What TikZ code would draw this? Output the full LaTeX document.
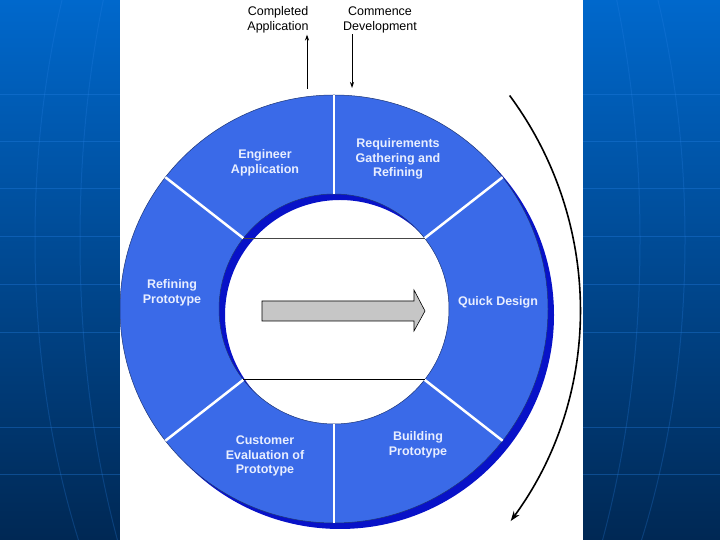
\documentclass[tikz,border=0pt]{standalone}
\usepackage{fontspec}
\setmainfont{Liberation Sans}
\usetikzlibrary{arrows.meta}

\definecolor{ringblue}{RGB}{58,106,232}
\definecolor{shadeblue}{RGB}{8,18,200}
\definecolor{bgtop}{RGB}{0,104,204}
\definecolor{bgbot}{RGB}{0,40,84}
\definecolor{gridblue}{RGB}{40,130,230}
\definecolor{lbltext}{RGB}{232,238,255}

\begin{document}
\begin{tikzpicture}[x=1pt,y=1pt]
\tikzstyle{lbl}=[text=lbltext,align=center,font=\bfseries\fontsize{12.5}{14.5}\selectfont,inner sep=0pt]
\tikzstyle{toplbl}=[text=black,align=center,font=\fontsize{12.5}{15}\selectfont,inner sep=1pt]
\tikzstyle{divider}=[draw=white,line width=2.5pt]
\tikzstyle{flow}=[draw=black,line width=0.8pt,-{Stealth[length=6pt,width=4pt]}]
\useasboundingbox (0,0) rectangle (720,540);

% slide background
\shade[top color=bgtop,bottom color=bgbot] (0,0) rectangle (720,540);
\foreach \y in {445,398,351,303,255,207,112,65}
    \draw[gridblue,opacity=0.35,line width=1pt] (0,\y) -- (720,\y);
\begin{scope}
    \clip (0,0) rectangle (720,540);
    \foreach \rx in {200,280,325}
        \draw[gridblue,opacity=0.25,line width=1pt] (360,300) ellipse ({\rx} and 600);
\end{scope}
\fill[white] (120,0) rectangle (583,540);

% ring with shadow
\begin{scope}[shift={(334,231)}]
    \fill[shadeblue,even odd rule] (6,-6) circle (214) (6,-6) circle (115);
    \filldraw[fill=ringblue,draw=ringblue!50!black,line width=0.5pt,even odd rule]
        (0,0) circle (214) (0,0) circle (115);
    \foreach \a in {90,38,-38,-90,218,142}
        \draw[divider] (\a:115) -- (\a:214);
    \draw[gray!55!black,line width=1.2pt] (142:115) -- (38:115);
    \draw[black,line width=0.9pt] (218:115) -- (-38:115);
\end{scope}

% centre arrow
\filldraw[fill=gray!45,draw=black,line width=0.6pt]
    (262,239) -- (414,239) -- (414,250) -- (425,229) -- (414,209) -- (414,219) -- (262,219) -- cycle;

\node[lbl] (eng) at (265,377) {Engineer\\Application};
\node[lbl] (req) at (398,381) {Requirements\\Gathering and\\Refining};
\node[lbl] (refp) at (172,247) {Refining\\Prototype};
\node[lbl] (quick) at (498,238) {Quick Design};
\node[lbl] (cust) at (265,84) {Customer\\Evaluation of\\Prototype};
\node[lbl] (build) at (418,95) {Building\\Prototype};

\node[toplbl] (done) at (278,520) {Completed\\Application};
\node[toplbl] (start) at (380,520) {Commence\\Development};

\coordinate (doneFoot) at (307,451);
\coordinate (startFoot) at (352,452);
\draw[flow] (doneFoot) -- (doneFoot |- done.south);
\draw[flow] (startFoot |- start.south) -- (startFoot);

% direction of the cycle
\coordinate (cycTop) at (509.6,444.5);
\draw[flow,line width=1.6pt,-{Stealth[length=10pt,width=7pt]}]
    (cycTop) arc[start angle=36.5,end angle=-36.2,radius=359];
\end{tikzpicture}
\end{document}
